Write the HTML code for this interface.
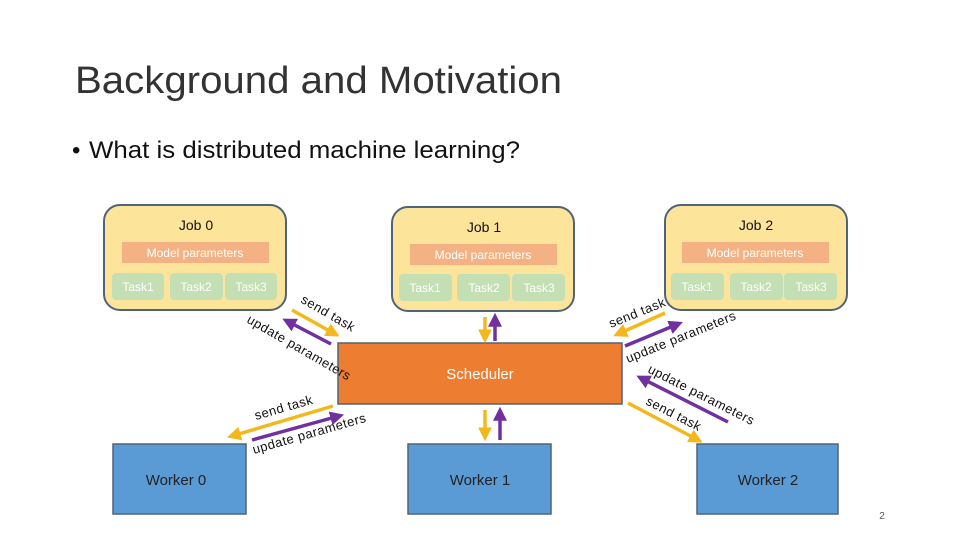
<!DOCTYPE html>
<html><head><meta charset="utf-8"><style>
html,body{margin:0;padding:0;background:#fff;}
svg{display:block;font-family:"Liberation Sans",sans-serif;}
</style></head><body>
<svg width="960" height="540" viewBox="0 0 960 540" xmlns="http://www.w3.org/2000/svg">
<defs>
<marker id="ay" markerWidth="4" markerHeight="4" refX="2.5" refY="2" orient="auto" markerUnits="strokeWidth"><path d="M0,0 L4,2 L0,4 z" fill="#f2b81c"/></marker>
<marker id="ap" markerWidth="4" markerHeight="4" refX="2.5" refY="2" orient="auto" markerUnits="strokeWidth"><path d="M0,0 L4,2 L0,4 z" fill="#7030a0"/></marker>
</defs>
<text x="75" y="93" font-size="38" fill="#333" textLength="487" lengthAdjust="spacingAndGlyphs">Background and Motivation</text>
<text x="72" y="158" font-size="24" fill="#111">•</text>
<text x="89" y="158" font-size="24" fill="#111" textLength="431" lengthAdjust="spacingAndGlyphs">What is distributed machine learning?</text>

<g stroke="#4f6478" stroke-width="2" fill="#fde49b">
<rect x="104" y="205" width="182" height="105" rx="16"/>
<rect x="392" y="207" width="182" height="104" rx="16"/>
<rect x="665" y="205" width="182" height="105" rx="16"/>
</g>
<g font-size="14" fill="#111" text-anchor="middle">
<text x="196" y="230">Job  0</text>
<text x="484" y="232">Job  1</text>
<text x="756" y="230">Job  2</text>
</g>
<g fill="#f4b183">
<rect x="122" y="242" width="147" height="21"/>
<rect x="410" y="244" width="147" height="21"/>
<rect x="682" y="242" width="147" height="21"/>
</g>
<g font-size="12" fill="#fff" text-anchor="middle">
<text x="195" y="257">Model parameters</text>
<text x="483" y="259">Model parameters</text>
<text x="755" y="257">Model parameters</text>
</g>
<g fill="#c5dfb4">
<rect x="112" y="273" width="52" height="27" rx="4"/><rect x="170" y="273" width="53" height="27" rx="4"/><rect x="225" y="273" width="52" height="27" rx="4"/>
<rect x="399" y="274" width="53" height="27" rx="4"/><rect x="457" y="274" width="53" height="27" rx="4"/><rect x="512" y="274" width="53" height="27" rx="4"/>
<rect x="671" y="273" width="53" height="27" rx="4"/><rect x="730" y="273" width="53" height="27" rx="4"/><rect x="784" y="273" width="53" height="27" rx="4"/>
</g>
<g font-size="12" fill="#fff" text-anchor="middle">
<text x="138" y="291">Task1</text><text x="196" y="291">Task2</text><text x="251" y="291">Task3</text>
<text x="425" y="292">Task1</text><text x="484" y="292">Task2</text><text x="539" y="292">Task3</text>
<text x="697" y="291">Task1</text><text x="756" y="291">Task2</text><text x="811" y="291">Task3</text>
</g>

<rect x="338" y="343" width="284" height="61" fill="#ed7d31" stroke="#4f6478" stroke-width="1.5"/>
<text x="480" y="379" font-size="15" fill="#fff" text-anchor="middle">Scheduler</text>
<g fill="#5b9bd5" stroke="#4f6478" stroke-width="1.5">
<rect x="113" y="444" width="133" height="70"/>
<rect x="408" y="444" width="143" height="70"/>
<rect x="697" y="444" width="141" height="70"/>
</g>
<g font-size="15" fill="#222" text-anchor="middle">
<text x="176" y="485">Worker 0</text>
<text x="480" y="485">Worker 1</text>
<text x="768" y="485">Worker 2</text>
</g>

<g stroke-width="3.5" fill="none">
<line x1="292" y1="310" x2="335" y2="334" stroke="#f2b81c" marker-end="url(#ay)"/>
<line x1="331" y1="344" x2="287" y2="321" stroke="#7030a0" marker-end="url(#ap)"/>
<line x1="333" y1="406" x2="232" y2="436" stroke="#f2b81c" marker-end="url(#ay)"/>
<line x1="252" y1="440" x2="339" y2="416" stroke="#7030a0" marker-end="url(#ap)"/>
<line x1="485" y1="317" x2="485" y2="338" stroke="#f2b81c" marker-end="url(#ay)"/>
<line x1="495" y1="341" x2="495" y2="318" stroke="#7030a0" marker-end="url(#ap)"/>
<line x1="485" y1="410" x2="485" y2="436" stroke="#f2b81c" marker-end="url(#ay)"/>
<line x1="500" y1="440" x2="500" y2="412" stroke="#7030a0" marker-end="url(#ap)"/>
<line x1="665" y1="313" x2="618" y2="334" stroke="#f2b81c" marker-end="url(#ay)"/>
<line x1="625" y1="346" x2="678" y2="324" stroke="#7030a0" marker-end="url(#ap)"/>
<line x1="728" y1="422" x2="641" y2="378" stroke="#7030a0" marker-end="url(#ap)"/>
<line x1="628" y1="403" x2="698" y2="440" stroke="#f2b81c" marker-end="url(#ay)"/>
</g>

<g font-size="13" fill="#111" letter-spacing="0.5">
<text transform="translate(300,302) rotate(30)">send  task</text>
<text transform="translate(246,322) rotate(30)">update  parameters</text>
<text transform="translate(256,420) rotate(-16)">send  task</text>
<text transform="translate(254,454) rotate(-16)">update  parameters</text>
<text transform="translate(611,328) rotate(-22)">send  task</text>
<text transform="translate(628,363) rotate(-22)">update  parameters</text>
<text transform="translate(647,372) rotate(27)">update  parameters</text>
<text transform="translate(645,404) rotate(27)">send  task</text>
</g>
<text x="882" y="519" font-size="10" fill="#555" text-anchor="middle">2</text>
</svg>
</body></html>
